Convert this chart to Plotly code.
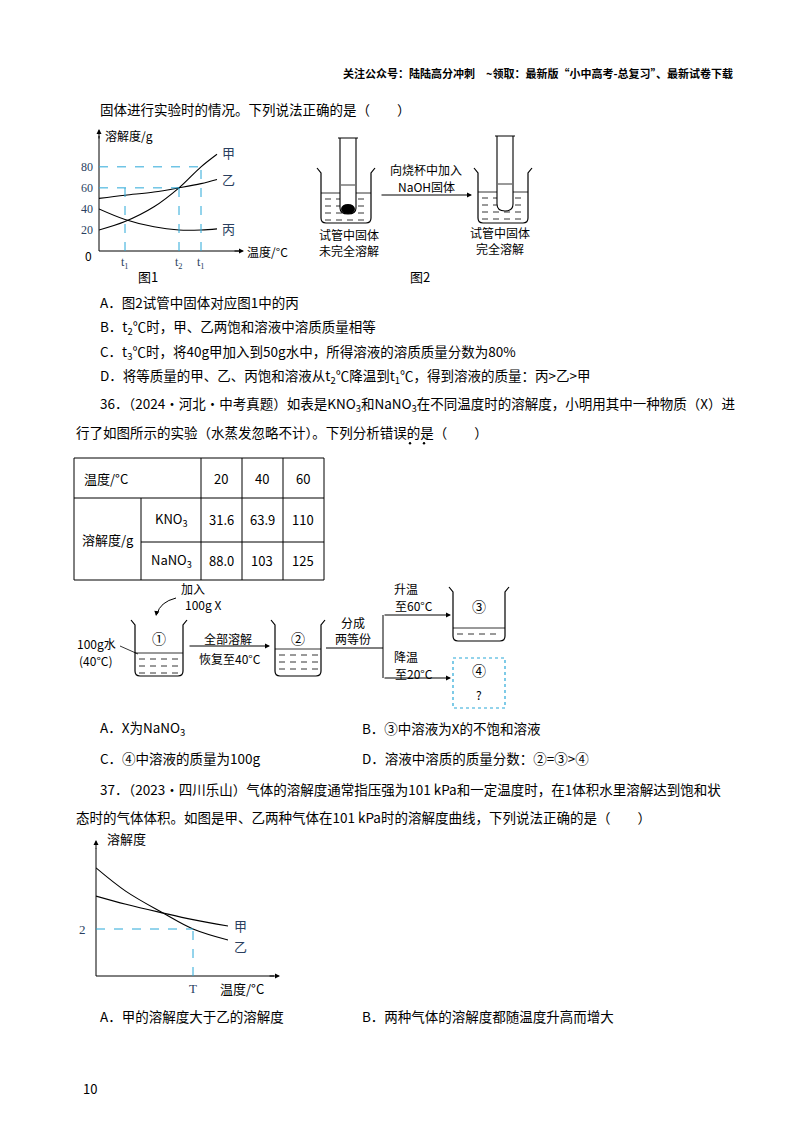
import plotly.graph_objects as go

W, H = 800, 1132
# ---- data ----
# Fig 1 (x: temperature axis units, y: solubility g)
fig1_ticks_y = [20, 40, 60, 80]
t_labels = ["t<sub>1</sub>", "t<sub>2</sub>", "t<sub>1</sub>"]
t_vals = [26, 80, 102]
jia1_x = [0, 26, 55, 80, 102, 118]
jia1_y = [20, 28, 42, 60, 80, 92]
yi1_x = [0, 26, 55, 80, 102, 118]
yi1_y = [50, 53, 56, 60, 64, 68]
bing1_x = [0, 26, 55, 80, 102, 118]
bing1_y = [40, 30, 23, 20, 20, 21]
# Table
tbl_temps = ["20", "40", "60"]
kno3 = ["31.6", "63.9", "110"]
nano3 = ["88.0", "103", "125"]
# Fig 3
jia3_x = [0, 30, 67, 97, 132]
jia3_y = [3.4, 3.05, 2.68, 2.4, 2.13]
yi3_x = [0, 30, 67, 97, 132]
yi3_y = [4.6, 3.6, 2.68, 2.0, 1.53]
T_val = 97
y_mark = 2

FONT = "Noto Sans CJK SC"
fig = go.Figure()
shapes, ann = [], []

def line(x0, y0, x1, y1, color="black", width=1, dash=None, xref="x", yref="y"):
    shapes.append(dict(type="line", x0=x0, y0=y0, x1=x1, y1=y1, xref=xref, yref=yref,
                       line=dict(color=color, width=width, dash=dash)))

def text(x, y, s, size=13.5, anchor="left", color="black", bold=False):
    ann.append(dict(x=x, y=y, xref="x", yref="y", text=("<b>%s</b>" % s) if bold else s,
                    showarrow=False, xanchor=anchor, yanchor="middle",
                    font=dict(size=size, color=color, family=FONT)))

def arrow(x0, y0, x1, y1):
    ann.append(dict(x=x1, y=y1, ax=x0, ay=y0, xref="x", yref="y", axref="x", ayref="y",
                    text="", showarrow=True, arrowhead=2, arrowsize=1, arrowwidth=1, arrowcolor="black",
                    font=dict(size=10)))

def beaker(x0, x1, top, bot, liq, dashes=True):
    path = "M %f %f L %f %f L %f %f Q %f %f %f %f L %f %f Q %f %f %f %f L %f %f L %f %f" % (
        x0 - 4, top - 3, x0, top + 2, x0, bot - 5, x0, bot, x0 + 5, bot, x1 - 5, bot, x1, bot, x1, bot - 5,
        x1, top + 2, x1 + 4, top - 3)
    shapes.append(dict(type="path", path=path, xref="x", yref="y", line=dict(color="black", width=1.2)))
    line(x0, liq, x1, liq, width=0.8)
    if dashes:
        yy = liq + 6
        while yy < bot - 2:
            xx = x0 + 4
            while xx < x1 - 6:
                line(xx, yy, xx + 6, yy, width=0.8)
                xx += 11
            yy += 7

# header
text(727, 65, "关注公众号：陆陆高分冲刺　~领取：最新版“小中高考-总复习”、最新试卷下载", size=11, anchor="right", bold=True)
text(90, 101, "固体进行实验时的情况。下列说法正确的是（　　）")

# ---- Fig 1 axes ----
line(91, 243, 232, 243); arrow(225, 243, 236, 243)
line(91, 243, 91, 128); arrow(91, 132, 91, 121)
text(95, 127, "溶解度/g", size=12)
text(237, 243, "温度/°C", size=12)
text(86, 247, "0", size=12, anchor="right")
for v in fig1_ticks_y:
    ann.append(dict(x=0, y=v, xref="x2", yref="y2", text=str(v), showarrow=False, xanchor="right",
                    xshift=-4, font=dict(size=12, family="Liberation Serif")))
for lab, tv in zip(t_labels, t_vals):
    ann.append(dict(x=tv, y=0, xref="x2", yref="y2", text=lab, showarrow=False, yanchor="top",
                    yshift=-2, font=dict(size=12, family="Liberation Serif")))
cy = "#29a8d8"
line(0, 80, 102, 80, color=cy, dash="dash", xref="x2", yref="y2")
line(102, 0, 102, 80, color=cy, dash="dash", xref="x2", yref="y2")
line(0, 60, 80, 60, color=cy, dash="dash", xref="x2", yref="y2")
line(80, 0, 80, 60, color=cy, dash="dash", xref="x2", yref="y2")
line(26, 0, 26, 60, color=cy, dash="dash", xref="x2", yref="y2")
for xs, ys in [(jia1_x, jia1_y), (yi1_x, yi1_y), (bing1_x, bing1_y)]:
    fig.add_trace(go.Scatter(x=xs, y=ys, xaxis="x2", yaxis="y2", mode="lines",
                             line=dict(color="black", width=1.1, shape="spline"), showlegend=False))
for lab, yv in [("甲", jia1_y[-1] + 2), ("乙", yi1_y[-1]), ("丙", bing1_y[-1])]:
    ann.append(dict(x=118, y=yv, xref="x2", yref="y2", text=lab, showarrow=False, xanchor="left",
                    xshift=3, font=dict(size=13, family=FONT)))
text(140, 268, "图1", size=13, anchor="center")

# ---- Fig 2 ----
beaker(313, 363, 163, 215, 185)
shapes.append(dict(type="path", path="M 330 130 L 350 130 M 332 130 L 332 200 Q 332 206 340 206 Q 348 206 348 200 L 348 130",
                   xref="x", yref="y", fillcolor="white", line=dict(color="black", width=1.1)))
line(333, 177, 347, 177, width=0.8)
shapes.append(dict(type="circle", x0=334, y0=197, x1=346, y1=205, xref="x", yref="y", fillcolor="black", line=dict(color="black")))
arrow(372, 187, 464, 187)
text(418, 161, "向烧杯中加入", size=12, anchor="center")
text(418, 178, "NaOH固体", size=12, anchor="center")
beaker(470, 520, 163, 215, 184)
shapes.append(dict(type="path", path="M 487 128 L 507 128 M 489 128 L 489 196 Q 489 203 497 203 Q 505 203 505 196 L 505 128",
                   xref="x", yref="y", fillcolor="white", line=dict(color="black", width=1.1)))
line(490, 176, 504, 176, width=0.8)
text(341, 226, "试管中固体", size=12, anchor="center"); text(341, 242, "未完全溶解", size=12, anchor="center")
text(492, 224, "试管中固体", size=12, anchor="center"); text(492, 240, "完全溶解", size=12, anchor="center")
text(412, 268, "图2", size=13, anchor="center")

# options Q35
text(90, 294, "A．图2试管中固体对应图1中的丙")
text(90, 319, "B．t<sub>2</sub>℃时，甲、乙两饱和溶液中溶质质量相等")
text(90, 344, "C．t<sub>3</sub>℃时，将40g甲加入到50g水中，所得溶液的溶质质量分数为80%")
text(90, 368, "D．将等质量的甲、乙、丙饱和溶液从t<sub>2</sub>℃降温到t<sub>1</sub>℃，得到溶液的质量：丙>乙>甲")
text(90, 396, "36．（2024·河北·中考真题）如表是KNO<sub>3</sub>和NaNO<sub>3</sub>在不同温度时的溶解度，小明用其中一种物质（X）进")
text(66, 424, "行了如图所示的实验（水蒸发忽略不计）。下列分析错误的是（　　）")
for xd in (402, 416):
    shapes.append(dict(type="circle", x0=xd - 1.2, y0=434, x1=xd + 1.2, y1=436.4, xref="x", yref="y",
                       fillcolor="black", line=dict(width=0)))

# ---- table ----
for yy in (450, 490, 572):
    line(66, yy, 316, yy)
line(133, 534, 316, 534)
for xx in (66, 193, 234, 275, 316):
    line(xx, 450, xx, 572)
line(133, 490, 133, 572)
text(74, 470, "温度/°C", size=13)
cols = [213, 254, 295]
for c, t in zip(cols, tbl_temps):
    text(c, 470, t, size=13, anchor="center")
text(100, 531, "溶解度/g", size=13, anchor="center")
text(163, 511, "KNO<sub>3</sub>", size=13, anchor="center")
text(163, 552, "NaNO<sub>3</sub>", size=13, anchor="center")
for c, a, b in zip(cols, kno3, nano3):
    text(c, 511, a, size=13, anchor="center")
    text(c, 552, b, size=13, anchor="center")

# ---- experiment diagram ----
beaker(127, 175, 615, 668, 645)
text(151, 630, "①", size=14, anchor="center")
text(185, 580, "加入", size=12, anchor="center")
text(195, 596, "100g X", size=12, anchor="center")
shapes.append(dict(type="path", path="M 168 590 Q 152 594 149 606", xref="x", yref="y", line=dict(color="black", width=1)))
arrow(149, 602, 148, 608)
text(88, 635, "100g水", size=12, anchor="center"); text(88, 652, "(40°C)", size=12, anchor="center")
line(112, 638, 130, 646, width=0.8)
arrow(180, 638, 262, 638)
text(220, 630, "全部溶解", size=12, anchor="center"); text(222, 650, "恢复至40°C", size=12, anchor="center")
beaker(267, 313, 615, 668, 641)
text(290, 630, "②", size=14, anchor="center")
line(318, 640, 375, 640)
text(345, 614, "分成", size=12, anchor="center"); text(345, 630, "两等份", size=12, anchor="center")
line(375, 607, 375, 670)
arrow(375, 607, 443, 607)
arrow(375, 670, 443, 670)
text(398, 580, "升温", size=12, anchor="center"); text(406, 597, "至60°C", size=12, anchor="center")
text(398, 648, "降温", size=12, anchor="center"); text(406, 665, "至20°C", size=12, anchor="center")
beaker(445, 497, 582, 633, 620)
text(471, 598, "③", size=14, anchor="center")
shapes.append(dict(type="rect", x0=445, y0=650, x1=497, y1=700, xref="x", yref="y", line=dict(color=cy, width=1.2, dash="dot")))
text(471, 662, "④", size=14, anchor="center"); text(471, 686, "?", size=12, anchor="center")

text(90, 720, "A．X为NaNO<sub>3</sub>")
text(352, 720, "B．③中溶液为X的不饱和溶液")
text(90, 750, "C．④中溶液的质量为100g")
text(352, 750, "D．溶液中溶质的质量分数：②=③>④")
text(90, 781, "37．（2023·四川乐山）气体的溶解度通常指压强为101 kPa和一定温度时，在1体积水里溶解达到饱和状")
text(66, 809, "态时的气体体积。如图是甲、乙两种气体在101 kPa时的溶解度曲线，下列说法正确的是（　　）")

# ---- Fig 3 ----
line(88, 968, 266, 968); arrow(260, 968, 272, 968)
line(88, 968, 88, 840); arrow(88, 842, 88, 832)
text(97, 830, "溶解度", size=13)
text(210, 980, "温度/°C", size=13)
ann.append(dict(x=0, y=y_mark, xref="x3", yref="y3", text=str(y_mark), showarrow=False, xanchor="right",
                xshift=-8, font=dict(size=13, family="Liberation Serif")))
ann.append(dict(x=T_val, y=0, xref="x3", yref="y3", text="T", showarrow=False, yanchor="top",
                yshift=-3, font=dict(size=13, family="Liberation Serif")))
line(0, y_mark, T_val, y_mark, color=cy, dash="dash", xref="x3", yref="y3")
line(T_val, 0, T_val, y_mark, color=cy, dash="dash", xref="x3", yref="y3")
for xs, ys in [(jia3_x, jia3_y), (yi3_x, yi3_y)]:
    fig.add_trace(go.Scatter(x=xs, y=ys, xaxis="x3", yaxis="y3", mode="lines",
                             line=dict(color="black", width=1.1, shape="spline"), showlegend=False))
ann.append(dict(x=132, y=jia3_y[-1], xref="x3", yref="y3", text="甲", showarrow=False, xanchor="left", xshift=4,
                font=dict(size=13, family=FONT)))
ann.append(dict(x=132, y=yi3_y[-1], xref="x3", yref="y3", text="乙", showarrow=False, xanchor="left", xshift=4,
                yshift=-6, font=dict(size=13, family=FONT)))

text(90, 1008, "A．甲的溶解度大于乙的溶解度")
text(352, 1008, "B．两种气体的溶解度都随温度升高而增大")
text(73, 1080, "10", size=13)

fig.add_trace(go.Scatter(x=[0], y=[0], mode="markers", marker=dict(opacity=0), showlegend=False, hoverinfo="skip"))
hide = dict(visible=False, fixedrange=True)
fig.update_layout(
    width=W, height=H, margin=dict(l=0, r=0, t=0, b=0), paper_bgcolor="white", plot_bgcolor="rgba(0,0,0,0)",
    xaxis=dict(range=[0, W], domain=[0, 1], **hide),
    yaxis=dict(range=[H, 0], domain=[0, 1], **hide),
    xaxis2=dict(range=[0, 144], domain=[91 / W, 235 / W], anchor="y2", **hide),
    yaxis2=dict(range=[0, 115], domain=[1 - 243 / H, 1 - 122 / H], anchor="x2", **hide),
    xaxis3=dict(range=[0, 184], domain=[88 / W, 272 / W], anchor="y3", **hide),
    yaxis3=dict(range=[0, 138 / 23.5], domain=[1 - 968 / H, 1 - 830 / H], anchor="x3", **hide),
    shapes=shapes, annotations=ann, showlegend=False,
)
fig.write_html("out.html")
